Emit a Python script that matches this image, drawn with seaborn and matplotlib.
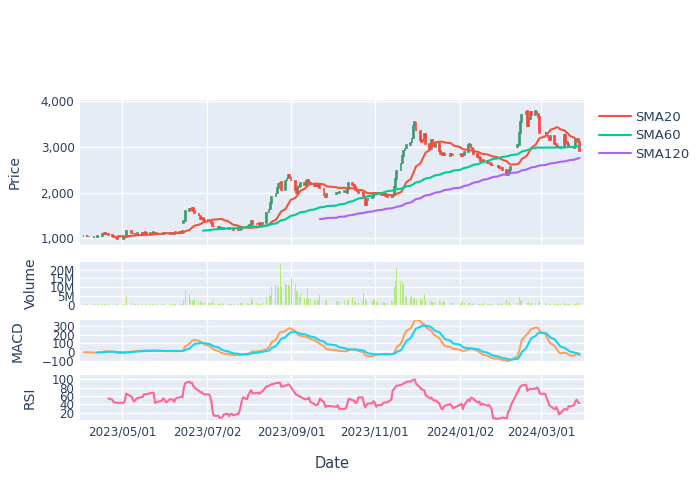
import numpy as np
import pandas as pd
import seaborn as sns
import matplotlib
matplotlib.use('agg')
import matplotlib.pyplot as plt
from matplotlib.ticker import FuncFormatter

# trading calendar
first_day, last_day = '2023-04-03', '2024-03-29'
holidays = ['2023-05-01', '2023-05-05', '2023-05-29', '2023-06-06', '2023-08-15',
            '2023-09-28', '2023-09-29', '2023-10-02', '2023-10-03', '2023-10-09',
            '2023-12-25', '2023-12-29', '2024-01-01', '2024-02-09', '2024-02-12',
            '2024-03-01']

# daily closes, month by month
close_apr = [1050, 1045, 1055, 1040, 1030, 1020, 1025, 1030, 1045, 1060,
             1100, 1110, 1095, 1085, 1065, 1050, 1035, 1020, 1005, 995]
close_may = [1000, 1020, 1150, 1120, 1100, 1090, 1105, 1120, 1110, 1100,
             1130, 1115, 1100, 1110, 1125, 1140, 1120, 1100, 1095, 1110]
close_jun = [1110, 1100, 1120, 1105, 1115, 1130, 1125, 1140, 1150, 1370,
             1600, 1650, 1620, 1660, 1600, 1550, 1480, 1430, 1450, 1400, 1380]
close_jul = [1390, 1360, 1330, 1280, 1250, 1230, 1240, 1220, 1210, 1230,
             1215, 1200, 1210, 1195, 1185, 1190, 1180, 1200, 1230, 1260, 1250]
close_aug = [1280, 1300, 1370, 1320, 1310, 1330, 1300, 1320, 1340, 1550, 1650,
             1780, 1900, 2000, 2100, 2180, 2220, 2050, 2250, 2320, 2380, 2340]
close_sep = [2250, 2050, 2000, 2120, 2150, 2200, 2160, 2250, 2280, 2200,
             2180, 2150, 2170, 2140, 2160, 2100, 1920, 1900, 1960]
close_oct = [1980, 2000, 2010, 2030, 2000, 2080, 2200, 2170, 2120, 2060,
             2020, 2000, 1980, 1880, 1720, 1820, 1870, 1900, 1960]
close_nov = [1980, 1960, 1990, 1950, 1970, 1940, 1930, 1910, 1900, 1950, 2120,
             2300, 2480, 2640, 2800, 2900, 2980, 3030, 3080, 3200, 3450, 3550]
close_dec = [3350, 3150, 3100, 3180, 3280, 3050, 2950, 3150, 3050, 3000,
             3080, 2900, 2850, 2820, 2860, 2800, 2850, 2830, 2820]
close_jan = [2840, 2800, 2830, 2880, 3030, 3050, 2980, 2920, 2850, 2780, 2760,
             2700, 2720, 2680, 2650, 2640, 2620, 2600, 2580, 2590, 2560, 2540]
close_feb = [2530, 2500, 2380, 2450, 2500, 2560, 3030, 3300, 3550, 3700,
             3780, 3450, 3600, 3750, 3700, 3780, 3720, 3650, 3300]
close_mar = [3300, 3250, 3200, 3150, 3240, 3050, 3000, 3020, 2980, 3000,
             3250, 3100, 3050, 3000, 2980, 3000, 3150, 3180, 3100, 2900]

# days that opened with a gap
gap_open_dates = ['2023-06-15', '2024-02-13']
gap_open_values = [1340, 2990]

# daily volume in millions of shares
vol_apr = [0.3, 0.2, 0.3, 0.4, 0.2, 0.3, 0.2, 0.3, 0.5, 0.4,
           0.3, 0.4, 0.3, 0.2, 0.3, 0.2, 0.3, 0.2, 0.3, 0.4]
vol_may = [0.4, 0.5, 4.9, 1.4, 0.6, 0.4, 0.5, 0.3, 0.4, 0.6,
           0.3, 0.4, 0.5, 0.3, 0.4, 0.3, 0.5, 0.6, 0.3, 0.4]
vol_jun = [0.4, 0.3, 0.5, 0.4, 0.3, 0.5, 0.4, 0.6, 0.5, 3.0,
           8.2, 6.3, 3.0, 2.8, 2.5, 3.3, 2.0, 1.5, 2.4, 1.2, 1.0]
vol_jul = [1.2, 0.9, 1.0, 2.4, 1.1, 0.8, 0.7, 0.6, 0.9, 0.5,
           0.7, 0.6, 0.5, 0.8, 0.6, 0.7, 0.5, 1.4, 1.0, 1.4, 0.9]
vol_aug = [0.8, 0.9, 4.3, 2.0, 0.9, 0.6, 0.5, 0.8, 1.0, 4.5, 5.5,
           5.0, 10.0, 11.5, 10.0, 10.5, 23.0, 10.0, 12.0, 11.5, 11.5, 11.0]
vol_sep = [15.5, 12.0, 8.0, 8.0, 4.5, 6.0, 4.0, 3.5, 9.5, 4.0,
           3.5, 3.0, 2.5, 3.0, 3.3, 5.7, 3.0, 2.2, 2.6]
vol_oct = [2.0, 2.5, 1.6, 2.7, 2.2, 2.0, 3.0, 4.3, 2.4, 1.8,
           1.6, 1.4, 2.0, 6.9, 3.3, 2.0, 1.5, 2.4, 3.3]
vol_nov = [3.3, 1.5, 2.0, 1.2, 1.8, 1.0, 1.5, 1.2, 2.4, 1.6, 10.0,
           13.7, 21.0, 13.7, 13.0, 12.0, 5.3, 4.3, 3.7, 5.3, 3.3, 3.7]
vol_dec = [3.3, 3.7, 2.4, 2.8, 6.3, 2.0, 1.6, 2.4, 1.5, 1.8,
           1.4, 2.0, 1.6, 1.4, 2.4, 1.8, 1.2, 1.0, 1.5]
vol_jan = [1.2, 1.0, 2.0, 1.1, 1.4, 0.9, 0.8, 0.7, 1.0, 0.6, 0.8,
           0.5, 0.7, 1.0, 0.6, 0.8, 0.5, 0.7, 0.6, 0.9, 0.7, 0.6]
vol_feb = [0.8, 0.9, 2.7, 1.2, 0.9, 0.8, 1.0, 4.7, 2.9, 2.0,
           1.6, 1.4, 1.8, 1.2, 1.4, 1.0, 0.9, 1.1, 2.0]
vol_mar = [1.0, 0.8, 0.9, 0.6, 0.7, 1.2, 0.8, 0.6, 0.7, 0.5,
           1.0, 0.7, 0.6, 0.8, 0.5, 0.6, 0.7, 0.9, 0.6, 1.0]

tick_dates = ['2023-05-01', '2023-07-02', '2023-09-01', '2023-11-01',
              '2024-01-02', '2024-03-01']

dates = pd.bdate_range(first_day, last_day)
dates = dates[~dates.isin(pd.to_datetime(holidays))]

close = (close_apr + close_may + close_jun + close_jul + close_aug + close_sep +
         close_oct + close_nov + close_dec + close_jan + close_feb + close_mar)
volume = (vol_apr + vol_may + vol_jun + vol_jul + vol_aug + vol_sep +
          vol_oct + vol_nov + vol_dec + vol_jan + vol_feb + vol_mar)

df = pd.DataFrame({'close': close, 'volume': np.array(volume) * 1e6}, index=dates)
df['open'] = df['close'].shift(1).fillna(df['close'])
df.loc[pd.to_datetime(gap_open_dates), 'open'] = gap_open_values

# indicators
df['SMA20'] = df['close'].rolling(20).mean()
df['SMA60'] = df['close'].rolling(60).mean()
df['SMA120'] = df['close'].rolling(120).mean()
ema12 = df['close'].ewm(span=12, adjust=False).mean()
ema26 = df['close'].ewm(span=26, adjust=False).mean()
df['MACD'] = ema12 - ema26
df['Signal'] = df['MACD'].ewm(span=9, adjust=False, min_periods=9).mean()
delta = df['close'].diff()
gain = delta.clip(lower=0).rolling(14).mean()
loss = (-delta.clip(upper=0)).rolling(14).mean()
df['RSI'] = 100 - 100 / (1 + gain / loss)

sns.set_theme(style='darkgrid', rc={'axes.facecolor': '#E5ECF6', 'grid.color': 'white',
                                    'grid.linewidth': 1.0})
plt.rcParams['font.family'] = ['DejaVu Sans']
text_col = '#2a3f5f'

fig = plt.figure(figsize=(7, 5), dpi=100, facecolor='white')
W, H = 700, 500
left, right = 80, 584


def panel(top, bottom):
    ax = fig.add_axes([left / W, 1 - bottom / H, (right - left) / W, (bottom - top) / H])
    ax.set_facecolor('#E5ECF6')
    for s in ax.spines.values():
        s.set_visible(False)
    ax.set_axisbelow(True)
    ax.grid(True, color='white', linewidth=1.0)
    ax.tick_params(length=0, labelsize=8.6, labelcolor=text_col, pad=4)
    return ax


ax_p = panel(100, 245)
ax_v = panel(262, 305)
ax_m = panel(320, 362)
ax_r = panel(375, 420)

# candles
up = df['close'] >= df['open']
dn = ~up
body = (df['close'] - df['open']).abs()
lo = df[['open', 'close']].min(axis=1)
ax_p.bar(df.index[up], body[up], bottom=lo[up], width=0.6, color='#3D9970',
         edgecolor='#3D9970', linewidth=1.2, zorder=2)
ax_p.bar(df.index[dn], body[dn], bottom=lo[dn], width=0.6, color='#FF4136',
         edgecolor='#FF4136', linewidth=1.2, zorder=2)

sma_colors = {'SMA20': '#EF553B', 'SMA60': '#00CC96', 'SMA120': '#AB63FA'}
for name, col in sma_colors.items():
    sns.lineplot(x=df.index, y=df[name], ax=ax_p, color=col, linewidth=1.5,
                 label=name, zorder=3)
ax_p.set_ylim(854, 4022)
ax_p.set_yticks([1000, 2000, 3000, 4000])
ax_p.yaxis.set_major_formatter(FuncFormatter(lambda v, p: f'{v:,.0f}'))
handles, labels = ax_p.get_legend_handles_labels()
ax_p.get_legend().remove()
fig.legend(handles, labels, loc='upper left', bbox_to_anchor=(587 / W, 1 - 99 / H),
           frameon=False, fontsize=9.5, handlelength=2.4, handletextpad=0.35,
           labelspacing=0.42, labelcolor=text_col)

# volume
ax_v.bar(df.index, df['volume'], width=0.7, color='#B6E880', linewidth=0, zorder=2)
ax_v.set_ylim(0, 24.3e6)
ax_v.set_yticks([0, 5e6, 10e6, 15e6, 20e6])
ax_v.set_yticklabels(['0', '5M', '10M', '15M', '20M'])

# MACD
ax_m.axhline(0, color='white', linewidth=1.6, zorder=1)
sns.lineplot(x=df.index, y=df['MACD'], ax=ax_m, color='#FFA15A', linewidth=1.5, zorder=3)
sns.lineplot(x=df.index, y=df['Signal'], ax=ax_m, color='#19D3F3', linewidth=1.5, zorder=3)
ax_m.set_ylim(-112, 365)
ax_m.set_yticks([-100, 0, 100, 200, 300])

# RSI
sns.lineplot(x=df.index, y=df['RSI'], ax=ax_r, color='#FF6692', linewidth=1.5, zorder=3)
ax_r.set_ylim(3, 110)
ax_r.set_yticks([20, 40, 60, 80, 100])

ticks = pd.to_datetime(tick_dates)
for ax in (ax_p, ax_v, ax_m, ax_r):
    ax.set_xlim(pd.Timestamp('2023-03-31 10:00'), pd.Timestamp('2024-04-01 05:00'))
    ax.set_xticks(ticks)
    ax.set_xlabel('')
    ax.set_ylabel('')
for ax in (ax_p, ax_v, ax_m):
    ax.set_xticklabels([])
ax_r.set_xticklabels([t.strftime('%Y/%m/%d') for t in ticks])

for ax, name, xpos in ((ax_p, 'Price', 22), (ax_v, 'Volume', 38),
                       (ax_m, 'MACD', 25), (ax_r, 'RSI', 37)):
    ax.set_ylabel(name, fontsize=10, color=text_col)
    ax.yaxis.set_label_coords((xpos - left) / (right - left), 0.5)

fig.text((left + right) / 2 / W, 1 - 464 / H, 'Date', ha='center', va='center',
         fontsize=10.5, color=text_col)

fig.savefig('out.png', dpi=100, facecolor='white')
